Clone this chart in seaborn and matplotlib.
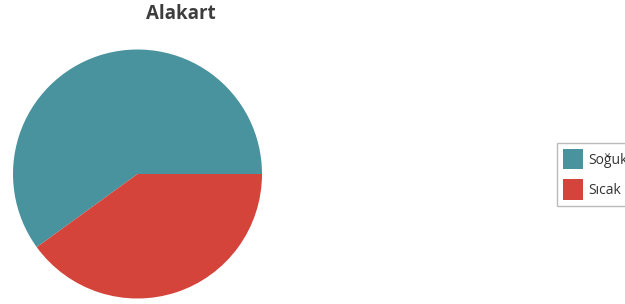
import matplotlib
matplotlib.use("Agg")
import matplotlib.pyplot as plt
import matplotlib.patches as mpatches
import seaborn as sns

categories = ["Soğuk", "Sıcak"]
values = [60, 40]
colors = ["#48939d", "#d5443b"]
title = "Alakart"

sns.set_theme(style="white")
plt.rcParams["font.family"] = ["Open Sans", "DejaVu Sans"]

W, H = 625, 304
fig = plt.figure(figsize=(W / 100, H / 100), dpi=100)
fig.patch.set_facecolor("white")

cx, cy, r = 137.5, 304 - 174, 124.5
ax = fig.add_axes([(cx - r) / W, (cy - r) / H, 2 * r / W, 2 * r / H])
ax.pie(values, colors=colors, startangle=0, counterclock=True, radius=1,
       wedgeprops=dict(linewidth=0))
ax.set_xlim(-1, 1)
ax.set_ylim(-1, 1)
ax.set_aspect("equal")
ax.axis("off")

fig.text(181 / W, 1 - 14 / H, title, ha="center", va="center",
         fontsize=13.5, fontweight="bold", color="#3d3d3d")

handles = [mpatches.Patch(facecolor=c, edgecolor="none") for c in colors]
leg = fig.legend(handles, categories, loc="upper left",
                 bbox_to_anchor=(557 / W, 1 - 143 / H),
                 frameon=True, fancybox=False, fontsize=10,
                 handlelength=1.45, handleheight=1.9, handletextpad=0.35,
                 labelspacing=0.7, borderpad=0.42, borderaxespad=0)
leg.get_frame().set_edgecolor("#aaaaaa")
leg.get_frame().set_linewidth(1)
for t in leg.get_texts():
    t.set_color("#333333")

fig.savefig("out.png", dpi=100, facecolor="white")
